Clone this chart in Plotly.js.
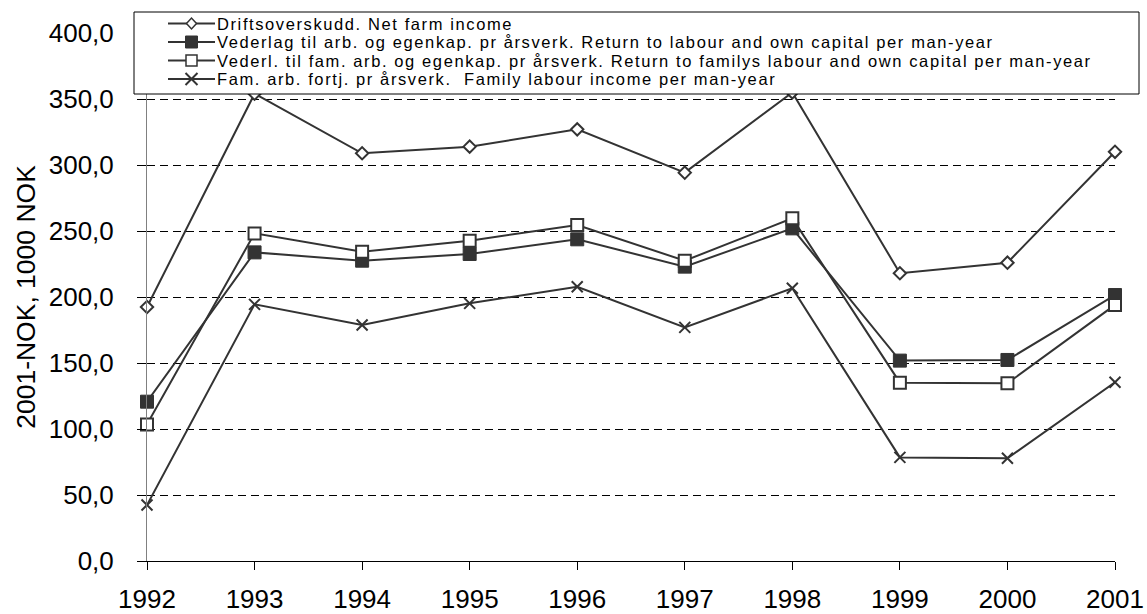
<!DOCTYPE html>
<html>
<head>
<meta charset="utf-8">
<script src="https://cdn.plot.ly/plotly-3.0.1.min.js"></script>
<style>
  html, body { margin: 0; padding: 0; background: #ffffff; }
  #chart { width: 1147px; height: 614px; }
  /* the original legend text is rendered wide, like Excel does */
  #chart .annotation-text { letter-spacing: 1.6px; }
</style>
</head>
<body>
<div id="chart"></div>
<script>
// ---- Data ----
const years = [1992, 1993, 1994, 1995, 1996, 1997, 1998, 1999, 2000, 2001];
const netFarmIncome = [192.4, 354.0, 308.9, 313.9, 327.0, 294.2, 355.0, 218.0, 226.0, 310.0];
const returnLabourOwnCapital = [120.7, 233.8, 227.5, 232.6, 243.7, 223.0, 252.0, 151.8, 152.3, 201.5];
const returnFamilyLabourOwnCapital = [103.5, 248.2, 234.3, 242.7, 254.5, 227.5, 259.6, 135.1, 134.6, 194.0];
const familyLabourIncome = [42.4, 194.4, 178.8, 195.2, 207.8, 177.0, 206.6, 78.5, 77.8, 135.4];

const seriesNames = [
  "Driftsoverskudd. Net farm income",
  "Vederlag til arb. og egenkap. pr årsverk. Return to labour and own capital per man-year",
  "Vederl. til fam. arb. og egenkap. pr årsverk. Return to familys labour and own capital per man-year",
  "Fam. arb. fortj. pr årsverk.\u00a0 Family labour income per man-year"
];
const yAxisTitle = "2001-NOK, 1000 NOK";

// ---- Styling ----
const INK = "#333333";
const FONT = 'Arial, "Liberation Sans", sans-serif';

const markerStyles = [
  {symbol: "diamond", size: 9.5, color: "#ffffff", line: {color: INK, width: 2}},
  {symbol: "square", size: 13, color: INK, line: {color: INK, width: 1}},
  {symbol: "square", size: 12, color: "#ffffff", line: {color: INK, width: 2}},
  {symbol: "x-thin", size: 11, color: INK, line: {color: INK, width: 2}}
];
const seriesValues = [netFarmIncome, returnLabourOwnCapital, returnFamilyLabourOwnCapital, familyLabourIncome];

const traces = seriesValues.map((vals, i) => ({
  type: "scatter",
  mode: "lines+markers",
  x: years,
  y: vals,
  name: seriesNames[i],
  line: {color: INK, width: 2},
  marker: markerStyles[i],
  cliponaxis: false,
  showlegend: false,
  hoverinfo: "x+y+name"
}));

// ---- Plot geometry (pixels of the page) ----
const L = 147, R = 1115, T = 33, B = 561;
const px2x = px => (px - L) / (R - L);
const px2y = py => (B - py) / (B - T);

// ---- Hand-built legend (tight rows like the original) ----
const legendRows = [23.5, 42, 60.5, 79];
const legendShapes = [{
  type: "rect", xref: "paper", yref: "paper", layer: "above",
  x0: px2x(134), x1: px2x(1139), y0: px2y(94), y1: px2y(12),
  fillcolor: "#ffffff", line: {color: "#000000", width: 1}
}];
const legendSymbolPaths = [
  {path: "M-5,0L0,5.5L5,0L0,-5.5Z", fill: "#ffffff", w: 1.5},
  {path: "M-6,-6H6V6H-6Z", fill: INK, w: 1},
  {path: "M-5.5,-5.5H5.5V5.5H-5.5Z", fill: "#ffffff", w: 1.5},
  {path: "M-6,-6L6,6M-6,6L6,-6", fill: "rgba(0,0,0,0)", w: 2}
];
legendRows.forEach((ry) => {
  legendShapes.push({
    type: "line", xref: "paper", yref: "paper", layer: "above",
    x0: px2x(168), x1: px2x(215), y0: px2y(ry), y1: px2y(ry),
    line: {color: INK, width: 2}
  });
});
legendRows.forEach((ry, i) => {
  const s = legendSymbolPaths[i];
  legendShapes.push({
    type: "path", xref: "paper", yref: "paper", layer: "above",
    xsizemode: "pixel", ysizemode: "pixel",
    xanchor: px2x(191.5), yanchor: px2y(ry),
    path: s.path, fillcolor: s.fill, line: {color: INK, width: s.w}
  });
});
const legendAnnotations = legendRows.map((ry, i) => ({
  xref: "paper", yref: "paper",
  x: px2x(216), y: px2y(ry + 0.5),
  xanchor: "left", yanchor: "middle", align: "left",
  text: seriesNames[i], showarrow: false,
  font: {family: FONT, size: 16.5, color: "#000000"},
  borderpad: 0
}));

const layout = {
  width: 1147, height: 614,
  paper_bgcolor: "#ffffff", plot_bgcolor: "#ffffff",
  separators: ", ",
  font: {family: FONT, color: "#000000"},
  margin: {l: L, r: 1147 - R, t: T, b: 614 - B, pad: 0, autoexpand: false},
  showlegend: false,
  xaxis: {
    range: [1992, 2001], dtick: 1, tick0: 1992,
    showline: true, linecolor: "#000000", linewidth: 1,
    ticks: "outside", ticklen: 8, tickcolor: "#000000", tickwidth: 1,
    showgrid: false, zeroline: false,
    tickfont: {family: FONT, size: 26, color: "#000000"},
    ticklabelstandoff: 7
  },
  yaxis: {
    range: [0, 400], dtick: 50, tick0: 0, tickformat: ".1f",
    showline: true, linecolor: "#808080", linewidth: 1,
    ticks: "outside", ticklen: 9, tickcolor: "#000000", tickwidth: 1,
    showgrid: true, gridcolor: "#000000", gridwidth: 1, griddash: "8px,5px",
    zeroline: false,
    tickfont: {family: FONT, size: 26, color: "#000000"},
    ticklabelstandoff: 18,
    title: {text: yAxisTitle, font: {family: FONT, size: 26.5, color: "#000000"}, standoff: 5}
  },
  shapes: legendShapes,
  annotations: legendAnnotations
};

Plotly.newPlot("chart", traces, layout, {displayModeBar: false, responsive: false, staticPlot: true});
</script>
</body>
</html>
